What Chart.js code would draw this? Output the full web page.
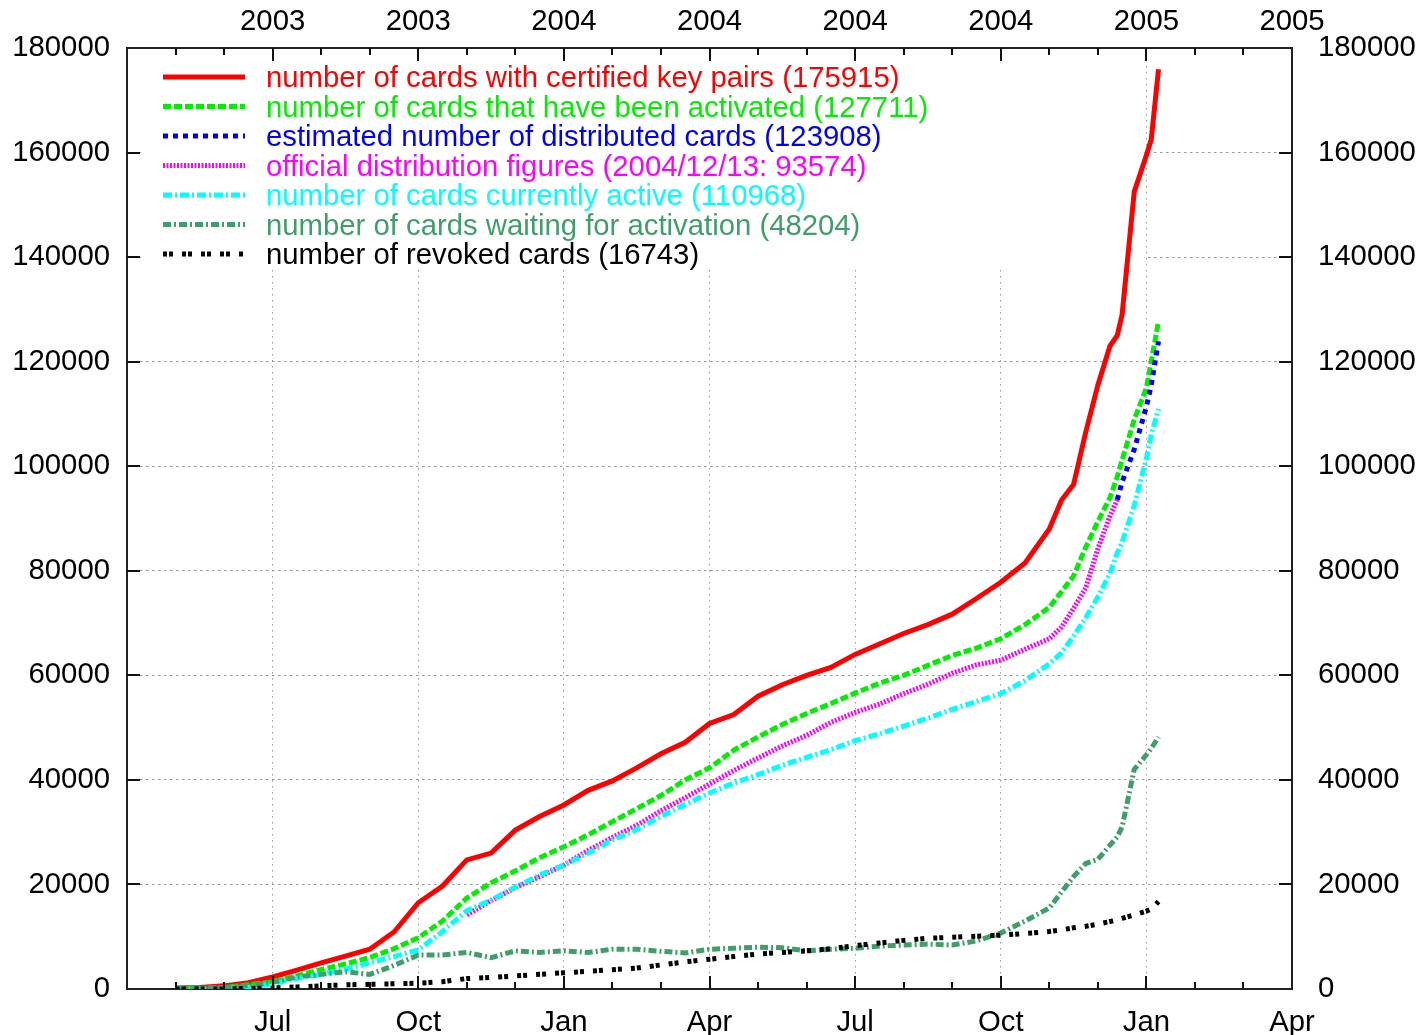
<!DOCTYPE html>
<html>
<head>
<meta charset="utf-8">
<title>Cartões</title>
<script src="https://cdn.jsdelivr.net/npm/chart.js@4.4.0/dist/chart.umd.min.js"></script>
<style>
    body { margin: 0; background: #fff; }
    #canva1 { display: block; }
</style>
</head>
<body>
<canvas id="canva1" width="1420" height="1035"></canvas>
<script>
// dados (x = meses desde 1 de abril de 2003)

var meses = [1, 1.5, 2, 2.5, 3, 3.5, 4, 4.5, 5, 5.5, 6, 6.5, 7, 7.5, 8, 8.5, 9, 9.5, 10, 10.5,
    11, 11.5, 12, 12.5, 13, 13.5, 14, 14.5, 15, 15.5, 16, 16.5, 17, 17.5, 18, 18.5, 19,
    19.25, 19.5, 19.75, 20, 20.25, 20.4, 20.5, 20.75, 21, 21.1, 21.25];

var certificados = [200, 300, 600, 1200, 2300, 3600, 5000, 6300, 7600, 10900, 16500, 19700, 24700, 26000, 30400, 33000, 35200, 38000, 39800, 42300,
    45000, 47200, 50800, 52500, 56000, 58200, 60000, 61500, 64000, 66000, 68000, 69700, 71700, 74700, 77800, 81500, 88000,
    93500, 96500, 106500, 115500, 123000, 125000, 129000, 152500, 159500, 162500, 175915];

var ativados = [0, 100, 300, 800, 1400, 2500, 3700, 4800, 6000, 7700, 9800, 13000, 17400, 20300, 22600, 25100, 27200, 29500, 32000, 34500,
    37000, 40000, 42300, 45700, 48200, 50600, 52700, 54600, 56600, 58500, 60000, 61900, 63800, 65200, 67000, 69700, 73000,
    76000, 79000, 84500, 89400, 94000, 98000, 101200, 108900, 115000, 120000, 127711];

var distribuidos = [null, null, null, null, null, null, null, null, null, null, null, null, null, null, null, null, null, null, null, null,
    null, null, null, null, null, null, null, null, null, null, null, null, null, null, null, null, null,
    null, null, null, null, null, 93574, 97000, 103200, 111400, 115500, 123908];

var oficiais = [null, null, null, null, null, null, null, null, null, null, null, null, 14200, 16900, 19400, 21500, 23700, 26500, 29000, 31300,
    34100, 36600, 39200, 41800, 44200, 46500, 48500, 51000, 52900, 54500, 56500, 58300, 60400, 62000, 62900, 65000, 67000,
    69200, 72800, 76700, 84200, 90500, 93574, null, null, null, null, null];

var ativos = [0, 0, 100, 300, 1000, 2000, 2800, 3800, 5000, 6200, 7500, 11000, 15000, 17000, 19500, 21800, 23700, 26000, 28500, 30500,
    33000, 35300, 37500, 39400, 41000, 42800, 44300, 45800, 47500, 48800, 50300, 51800, 53500, 55000, 56500, 59000, 62200,
    64300, 67500, 71000, 75000, 79500, 83400, 85500, 92500, 101500, 106000, 110968];

var aguardando = [0, 100, 300, 700, 1300, 2300, 2800, 3300, 2800, 4500, 6500, 6500, 7000, 6000, 7300, 7000, 7300, 7000, 7600, 7600,
    7200, 6900, 7600, 7800, 8000, 7900, 7300, 7600, 7800, 8200, 8400, 8600, 8400, 9200, 10700, 13000, 15500,
    18500, 21500, 24000, 24800, 27500, 29100, 31000, 42000, 44800, 46000, 48204];

var revogados = [0, 0, 0, 100, 200, 400, 600, 800, 900, 1000, 1100, 1400, 2000, 2200, 2500, 2800, 3100, 3400, 3700, 4000,
    4600, 5200, 5700, 6200, 6700, 7000, 7300, 7700, 8300, 8800, 9300, 9700, 9900, 10100, 10300, 10600, 11000,
    11300, 11700, 12000, 12400, 12900, 13200, 13500, 14200, 14900, 15300, 16743];

var rotulosMes = ['', 'Jul', 'Oct', 'Jan', 'Apr', 'Jul', 'Oct', 'Jan', 'Apr'];
var rotulosAno = ['', '2003', '2003', '2004', '2004', '2004', '2004', '2005', '2005'];

var legendas = [
    'number of cards with certified key pairs (175915)',
    'number of cards that have been activated (127711)',
    'estimated number of distributed cards (123908)',
    'official distribution figures (2004/12/13: 93574)',
    'number of cards currently active (110968)',
    'number of cards waiting for activation (48204)',
    'number of revoked cards (16743)'
];

var fonte = "'Liberation Sans', Arial, sans-serif";
var tamFonte = 29.3;

function pontos(valores) { // junta meses e valores
    return meses.map(function (m, i) {
        return { x: m, y: valores[i] };
    });
}

function serie(indice, valores, cor, tracejado) {
    return {
        label: legendas[indice],
        data: pontos(valores),
        borderColor: cor,
        backgroundColor: cor,
        borderWidth: 5,
        borderDash: tracejado,
        order: 7 - indice, // gnuplot desenha a primeira por baixo
        fill: false
    };
}

// caixa branca da legenda (esconde a grade, como no gnuplot)
var pluginLegenda = {
    id: 'legendaGnuplot',
    beforeDatasetsDraw: function (chart) {
        var ctx = chart.ctx;
        var a = chart.chartArea;
        ctx.save();
        ctx.fillStyle = '#fff';
        ctx.fillRect(a.left + 14, a.top + 8, 1003, 214);
        ctx.restore();
    },
    afterDatasetsDraw: function (chart) {
        var ctx = chart.ctx;
        var a = chart.chartArea;
        ctx.save();
        ctx.font = tamFonte + 'px ' + fonte;
        ctx.textBaseline = 'middle';
        ctx.lineCap = 'butt';
        chart.data.datasets.forEach(function (ds, i) {
            var y = a.top + 30 + i * 29.5;
            ctx.strokeStyle = ds.borderColor;
            ctx.lineWidth = ds.borderWidth;
            ctx.setLineDash(ds.borderDash || []);
            ctx.beginPath();
            ctx.moveTo(a.left + 36, y - 1);
            ctx.lineTo(a.left + 118, y - 1);
            ctx.stroke();
            ctx.setLineDash([]);
            ctx.fillStyle = ds.borderColor;
            ctx.fillText(ds.label, a.left + 139, y + 1);
        });
        ctx.restore();
    }
};

// marcas dos eixos para dentro
var pluginMarcas = {
    id: 'marcasInternas',
    afterDraw: function (chart) {
        var ctx = chart.ctx;
        var a = chart.chartArea;
        var sx = chart.scales.x;
        var sy = chart.scales.y;
        ctx.save();
        ctx.strokeStyle = '#111';
        ctx.lineWidth = 2;
        ctx.beginPath();
        for (var m = 1; m < 24; m++) {
            var px = Math.round(sx.getPixelForValue(m));
            var tam = (m % 3 == 0) ? 13 : 7;
            ctx.moveTo(px, a.bottom);
            ctx.lineTo(px, a.bottom - tam);
            ctx.moveTo(px, a.top);
            ctx.lineTo(px, a.top + tam);
        }
        for (var v = 20000; v < 180000; v += 20000) {
            var py = Math.round(sy.getPixelForValue(v));
            ctx.moveTo(a.left, py);
            ctx.lineTo(a.left + 13, py);
            ctx.moveTo(a.right, py);
            ctx.lineTo(a.right - 13, py);
        }
        ctx.stroke();
        ctx.restore();
    }
};

function corGrade(limite) {
    return function (c) {
        if (c.tick && (c.tick.value == 0 || c.tick.value == limite)) {
            return 'rgba(0,0,0,0)';
        }
        return '#9a9a9a';
    };
}

var ticksX = function (rotulos, pad) {
    return {
        stepSize: 3,
        autoSkip: false,
        maxRotation: 0,
        padding: pad,
        color: '#000',
        font: { family: fonte, size: tamFonte },
        callback: function (v) { return rotulos[v / 3]; }
    };
};

var ticksY = function (pad) {
    return {
        stepSize: 20000,
        padding: pad,
        color: '#000',
        font: { family: fonte, size: tamFonte },
        callback: function (v) { return String(v); }
    };
};

var borda = { color: '#222', width: 2 };

var ctx = document.getElementById('canva1').getContext('2d');
var myChart1 = new Chart(ctx, {
    type: 'line',
    data: {
        datasets: [
            serie(0, certificados, '#ff0000', []),
            serie(1, ativados, '#00ee00', [8, 3]),
            serie(2, distribuidos, '#0000ff', [5, 5]),
            serie(3, oficiais, '#ff00ff', [2, 1.5]),
            serie(4, ativos, '#00ffff', [9, 3, 2, 3]),
            serie(5, aguardando, '#3f9f6a', [8, 3, 2, 3]),
            serie(6, revogados, '#000000', [4, 2, 4, 9])
        ]
    },
    options: {
        responsive: false,
        devicePixelRatio: 1,
        animation: false,
        layout: { padding: 0 },
        elements: {
            point: { radius: 0, hoverRadius: 0 },
            line: { tension: 0, borderCapStyle: 'butt' }
        },
        plugins: {
            legend: { display: false },
            tooltip: { enabled: false }
        },
        scales: {
            x: {
                type: 'linear', position: 'bottom', min: 0, max: 24,
                ticks: ticksX(rotulosMes, 16),
                grid: { drawTicks: false, color: corGrade(24), lineWidth: 1 },
                border: { color: '#222', width: 2, dash: [1.5, 4.5] },
                afterFit: function (s) { s.height = 46; }
            },
            xTopo: {
                type: 'linear', position: 'top', min: 0, max: 24,
                ticks: ticksX(rotulosAno, 9),
                grid: { display: false, drawTicks: false },
                border: borda,
                afterFit: function (s) { s.height = 48; }
            },
            y: {
                type: 'linear', position: 'left', min: 0, max: 180000,
                ticks: ticksY(17),
                grid: { drawTicks: false, color: corGrade(180000), lineWidth: 1 },
                border: { color: '#222', width: 2, dash: [2.5, 3.5] },
                afterFit: function (s) { s.width = 127; }
            },
            yDir: {
                type: 'linear', position: 'right', min: 0, max: 180000,
                ticks: ticksY(26),
                grid: { display: false, drawTicks: false },
                border: borda,
                afterFit: function (s) { s.width = 128; }
            }
        }
    },
    plugins: [pluginLegenda, pluginMarcas]
});
</script>
</body>
</html>
